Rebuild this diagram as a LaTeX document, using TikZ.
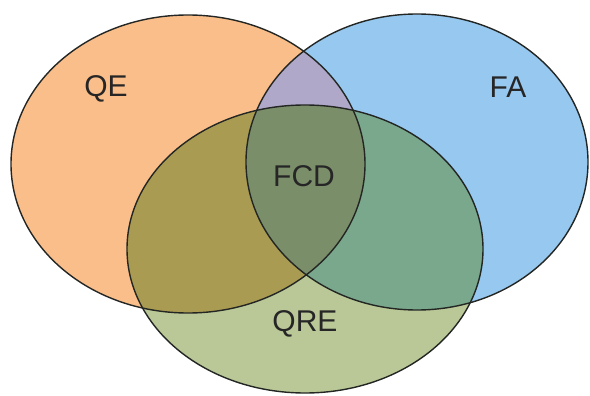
\documentclass[tikz,border=0pt]{standalone}
\usepackage{fontspec}
\setmainfont{Liberation Sans}
\usepackage{tikz}

\definecolor{qeorange}{RGB}{250,190,138}
\definecolor{fablue}{RGB}{150,200,240}
\definecolor{qregreen}{RGB}{185,200,150}
\definecolor{qefa}{RGB}{175,168,200}
\definecolor{qeqre}{RGB}{170,155,82}
\definecolor{faqre}{RGB}{122,168,140}
\definecolor{fcd}{RGB}{122,142,106}
\definecolor{rim}{RGB}{35,38,35}

\newcommand{\qeset}{(188,164) ellipse [x radius=177, y radius=149]}
\newcommand{\faset}{(417,162) ellipse [x radius=171, y radius=148]}
\newcommand{\qreset}{(305,249) ellipse [x radius=178, y radius=144]}

\begin{document}
\begin{tikzpicture}[x=1pt,y=-1pt]
  \tikzstyle{rimline} = [draw=rim, line width=1.4pt]
  \tikzstyle{label} = [font=\fontsize{30}{34}\selectfont, text=black!85]

  \useasboundingbox (0,0) rectangle (590,396);

  % single sets
  \fill[qeorange] \qeset;
  \fill[fablue] \faset;
  \fill[qregreen] \qreset;

  % overlaps
  \begin{scope}
    \clip \qeset;
    \fill[qefa] \faset;
    \fill[qeqre] \qreset;
  \end{scope}
  \begin{scope}
    \clip \faset;
    \fill[faqre] \qreset;
  \end{scope}
  \begin{scope}
    \clip \qeset;
    \clip \faset;
    \fill[fcd] \qreset;
  \end{scope}

  \draw[rimline] \qeset;
  \draw[rimline] \faset;
  \draw[rimline] \qreset;

  \node[label] (qe) at (106,89) {QE};
  \node[label] (fa) at (508,87) {FA};
  \node[label] (fcdlabel) at (304,176) {FCD};
  \node[label] (qre) at (305,324) {QRE};
\end{tikzpicture}
\end{document}
